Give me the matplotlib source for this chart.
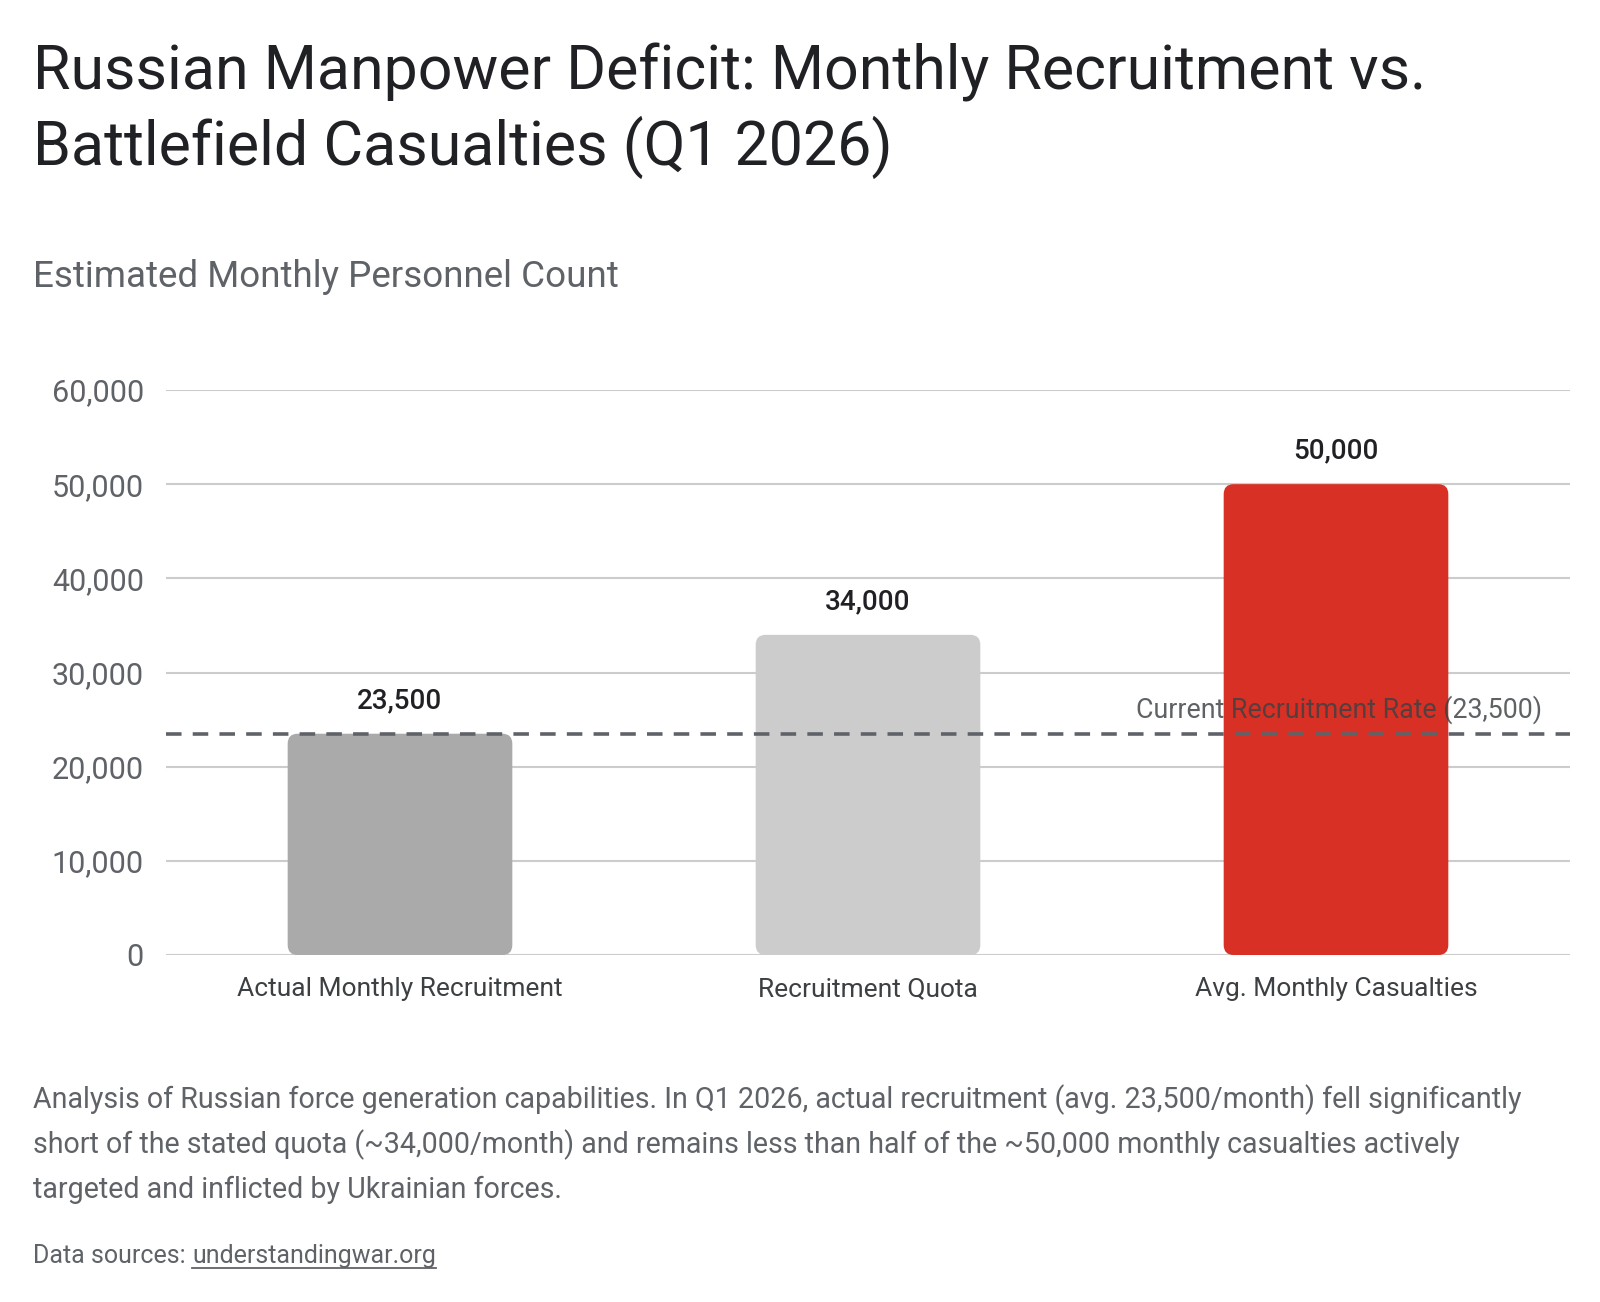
import matplotlib
matplotlib.use("Agg")
import matplotlib.pyplot as plt
from matplotlib.patches import FancyBboxPatch
from matplotlib.lines import Line2D

categories = ["Actual Monthly Recruitment", "Recruitment Quota", "Avg. Monthly Casualties"]
values = [23500, 34000, 50000]
bar_colors = ["#aaaaaa", "#cccccc", "#d93025"]
ref_value = 23500
ref_label = "Current Recruitment Rate (23,500)"
yticks = [0, 10000, 20000, 30000, 40000, 50000, 60000]

title = "Russian Manpower Deficit: Monthly Recruitment vs.\nBattlefield Casualties (Q1 2026)"
subtitle = "Estimated Monthly Personnel Count"
note_lines = [
    "Analysis of Russian force generation capabilities. In Q1 2026, actual recruitment (avg. 23,500/month) fell significantly",
    "short of the stated quota (~34,000/month) and remains less than half of the ~50,000 monthly casualties actively",
    "targeted and inflicted by Ukrainian forces.",
]
source_prefix = "Data sources: "
source_link = "understandingwar.org"

plt.rcParams["font.family"] = ["Roboto", "DejaVu Sans"]

W, H = 1600, 1302
DPI = 100
fig = plt.figure(figsize=(W / DPI, H / DPI), dpi=DPI)
fig.patch.set_facecolor("white")

def fx(px):
    return px / W

def fy(py):
    return 1 - py / H

# axes
left, right, top, bottom = 166, 1570, 390, 955
ax = fig.add_axes([fx(left), fy(bottom), (right - left) / W, (bottom - top) / H])
ax.set_xlim(-0.5, len(categories) - 0.5)
ax.set_ylim(0, 60000)
for s in ax.spines.values():
    s.set_visible(False)
ax.set_yticks(yticks)
ax.set_yticklabels([f"{v:,}" for v in yticks])
ax.yaxis.grid(True, color="#cccccc", linewidth=1.5)
ax.set_axisbelow(True)
ax.tick_params(axis="y", length=0, pad=16, labelsize=22, labelcolor="#5f6368")
ax.set_xticks(range(len(categories)))
ax.set_xticklabels(categories)
ax.tick_params(axis="x", length=0, pad=16, labelsize=19, labelcolor="#3c4043")

bars = ax.bar(range(len(categories)), values, width=0.48, color=bar_colors)
# replace with rounded bars
px_per_x = (right - left) / (len(categories))
data_per_py = 60000 / (bottom - top)
radius_px = 10
r_x = radius_px / px_per_x
aspect = data_per_py * px_per_x
for b in bars:
    x0, y0 = b.get_x(), b.get_y()
    w, h = b.get_width(), b.get_height()
    fc = b.get_facecolor()
    b.set_visible(False)
    p = FancyBboxPatch((x0, y0), w, h,
                       boxstyle=f"round,pad=0,rounding_size={r_x}",
                       mutation_aspect=aspect, facecolor=fc, edgecolor="none",
                       zorder=2)
    ax.add_patch(p)

for i, v in enumerate(values):
    ax.annotate(f"{v:,}", xy=(i, v), xytext=(0, 18.5), textcoords="offset points",
                ha="center", va="baseline", fontsize=20, fontweight="medium",
                color="#202124", zorder=5)

ax.axhline(ref_value, color="#5f6368", linewidth=2.6, linestyle=(0, (4.3, 3.1)), zorder=4)
ax.annotate(ref_label, xy=((1542 - left) / (right - left), ref_value),
            xycoords=("axes fraction", "data"), xytext=(0, 11.5),
            textcoords="offset points", ha="right", va="baseline",
            fontsize=19.3, color="#3c4043", alpha=0.82, zorder=6)

# title / subtitle
fig.text(fx(33), fy(90), title.split("\n")[0], fontsize=43.8, color="#202124", va="baseline", ha="left")
fig.text(fx(33), fy(165), title.split("\n")[1], fontsize=43.8, color="#202124", va="baseline", ha="left")
fig.text(fx(33), fy(287), subtitle, fontsize=26.5, color="#5f6368", va="baseline", ha="left")

# notes
for k, line in enumerate(note_lines):
    fig.text(fx(33), fy(1108 + 45 * k), line, fontsize=20.6, color="#5f6368", va="baseline", ha="left")

t1 = fig.text(fx(33), fy(1263), source_prefix, fontsize=18, color="#5f6368", va="baseline", ha="left")
fig.canvas.draw()
renderer = fig.canvas.get_renderer()
bb = t1.get_window_extent(renderer)
x_link = bb.x1
t2 = fig.text(x_link / W, fy(1263), source_link, fontsize=18, color="#5f6368", va="baseline", ha="left")
bb2 = t2.get_window_extent(renderer)
uy = (H - 1263 - 5) / H
fig.add_artist(Line2D([bb2.x0 / W, bb2.x1 / W], [uy, uy], color="#5f6368", linewidth=1.3,
                      transform=fig.transFigure))

fig.savefig("out.png", dpi=DPI, facecolor="white")
